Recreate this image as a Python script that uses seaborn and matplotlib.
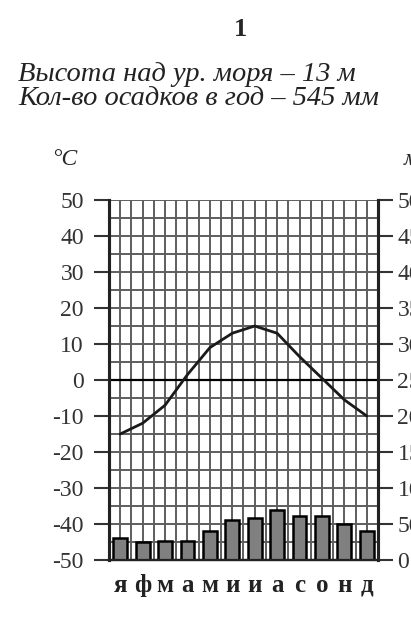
import numpy as np
import pandas as pd
import seaborn as sns
import matplotlib.pyplot as plt

months = ['я', 'ф', 'м', 'а', 'м', 'и', 'и', 'а', 'с', 'о', 'н', 'д']
temp_c = [-15, -12, -7, 1.5, 9, 13, 15, 13, 6.5, 0.5, -5.5, -10]
precip_mm = [31, 25, 27, 27, 40, 55, 58, 70, 61, 61, 50, 40]
temp_ticks = list(range(-50, 51, 10))
precip_ticks = list(range(0, 501, 50))

sns.set_style("white")
plt.rcParams['font.family'] = ['Liberation Serif', 'DejaVu Serif']
plt.rcParams['axes.unicode_minus'] = False

df = pd.DataFrame({'pos': range(12), 'month': months, 'temp': temp_c, 'precip': precip_mm})

fig = plt.figure(figsize=(4.11, 6.34), dpi=100)
ax = fig.add_axes([0.2652, 0.1167, 0.6545, 0.5678])
ax2 = ax.twinx()

# grid
ax.set_ylim(-50, 50)
ax.set_yticks(temp_ticks)
ax.set_yticks(np.arange(-50, 51, 5), minor=True)
ax.set_xlim(-0.5, 11.5)
ax.set_xticks(range(12))
ax.set_xticks(np.arange(-0.5, 12, 1), minor=True)
ax.grid(True, which='both', axis='both', color='#5e5e5e', lw=1.4)
ax.axhline(0, color='black', lw=1.6, zorder=2)
ax.set_axisbelow(True)

# temperature line
sns.lineplot(data=df, x='pos', y='temp', ax=ax, color='#1a1a1a', lw=2.0, zorder=3)

# precipitation bars
sns.barplot(data=df, x='pos', y='precip', ax=ax2, color='#808080', width=0.62,
            edgecolor='black', linewidth=1.8, saturation=1, native_scale=True)
ax2.set_ylim(0, 500)
ax2.set_yticks(precip_ticks)
ax2.set_xlim(-0.5, 11.5)

ax.set_xticklabels(months, fontsize=18, fontweight='bold', color='#222222')
ax.tick_params(axis='x', which='both', length=0, pad=10)
ax.tick_params(axis='y', which='major', length=11, width=1.5, color='#333333',
               labelsize=17, labelcolor='#333333', pad=7)
ax.tick_params(axis='y', which='minor', length=0)
ax2.tick_params(axis='y', length=11, width=1.5, color='#333333',
                labelsize=17, labelcolor='#333333', pad=3)
ax.set_xlabel('')
ax.set_ylabel('')
ax2.set_xlabel('')
ax2.set_ylabel('')

for a in (ax, ax2):
    a.spines['top'].set_visible(False)
    a.spines['left'].set_linewidth(2.2)
    a.spines['right'].set_linewidth(2.2)
    a.spines['bottom'].set_linewidth(1.6)
    for s in a.spines.values():
        s.set_color('#222222')

fig.text(0.584, 0.953, '1', ha='center', va='center', fontsize=19, fontweight='bold')
fig.text(0.044, 0.8722, 'Высота над ур. моря – 13 м', ha='left', va='baseline',
         fontsize=20.5, style='italic', color='#222222')
fig.text(0.044, 0.8345, 'Кол-во осадков в год – 545 мм', ha='left', va='baseline',
         fontsize=20.5, style='italic', color='#222222')
fig.text(0.127, 0.749, '°C', ha='left', va='center', fontsize=17, style='italic')
fig.text(0.981, 0.749, 'мм', ha='left', va='center', fontsize=17, style='italic')

fig.savefig('out.png', dpi=100)
